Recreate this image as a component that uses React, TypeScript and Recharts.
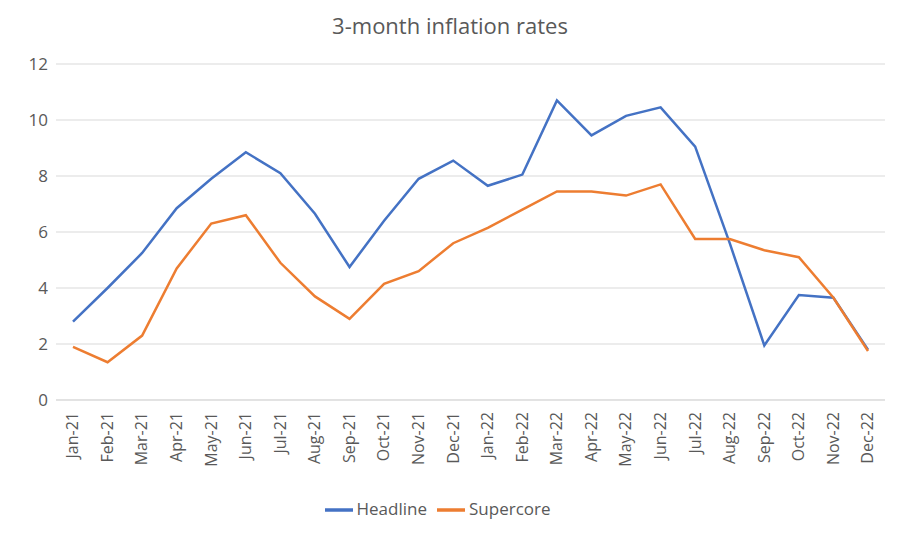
import { LineChart, Line, XAxis, YAxis, CartesianGrid, Legend } from 'recharts'

const months = ['Jan-21','Feb-21','Mar-21','Apr-21','May-21','Jun-21','Jul-21','Aug-21','Sep-21','Oct-21','Nov-21','Dec-21','Jan-22','Feb-22','Mar-22','Apr-22','May-22','Jun-22','Jul-22','Aug-22','Sep-22','Oct-22','Nov-22','Dec-22']
const headline = [2.8,4.0,5.25,6.85,7.9,8.85,8.1,6.65,4.75,6.4,7.9,8.55,7.65,8.05,10.7,9.45,10.15,10.45,9.05,5.6,1.95,3.75,3.65,1.8]
const supercore = [1.9,1.35,2.3,4.7,6.3,6.6,4.9,3.7,2.9,4.15,4.6,5.6,6.15,6.8,7.45,7.45,7.3,7.7,5.75,5.75,5.35,5.1,3.65,1.75]
const yTicks = [0,2,4,6,8,10,12]

const data = months.map((m, i) => ({ month: m, Headline: headline[i], Supercore: supercore[i] }))

export default function App() {
  return (
    <div style={{ position: 'absolute', left: 0, top: 0, width: 900, height: 534, background: '#fff', fontFamily: 'Open Sans, sans-serif' }}>
      <div style={{ position: 'absolute', top: 10, width: 900, textAlign: 'center', fontSize: 22, color: '#595959' }}>3-month inflation rates</div>
      <LineChart width={900} height={534} data={data} margin={{ top: 64, right: 15, bottom: 10, left: 0 }}>
        <CartesianGrid vertical={false} stroke="#d9d9d9" />
        <XAxis dataKey="month" interval={0} angle={-90} textAnchor="end" height={86} tickLine={false} axisLine={{ stroke: '#d9d9d9' }}
          padding={{ left: 17, right: 17 }}
          tick={{ fontSize: 16, fill: '#595959', dx: -6, dy: 4 }} />
        <YAxis domain={[0, 12]} ticks={yTicks} width={56} axisLine={false} tickLine={false} tick={{ fontSize: 17, fill: '#595959' }} />
        <Legend verticalAlign="bottom" iconType="plainline" iconSize={28}
          formatter={(v) => <span style={{ color: '#595959' }}>{v}</span>}
          wrapperStyle={{ fontSize: 17, paddingTop: 10 }} />
        <Line dataKey="Headline" stroke="#4472c4" strokeWidth={2.5} dot={false} isAnimationActive={false} />
        <Line dataKey="Supercore" stroke="#ed7d31" strokeWidth={2.5} dot={false} isAnimationActive={false} />
      </LineChart>
    </div>
  )
}
